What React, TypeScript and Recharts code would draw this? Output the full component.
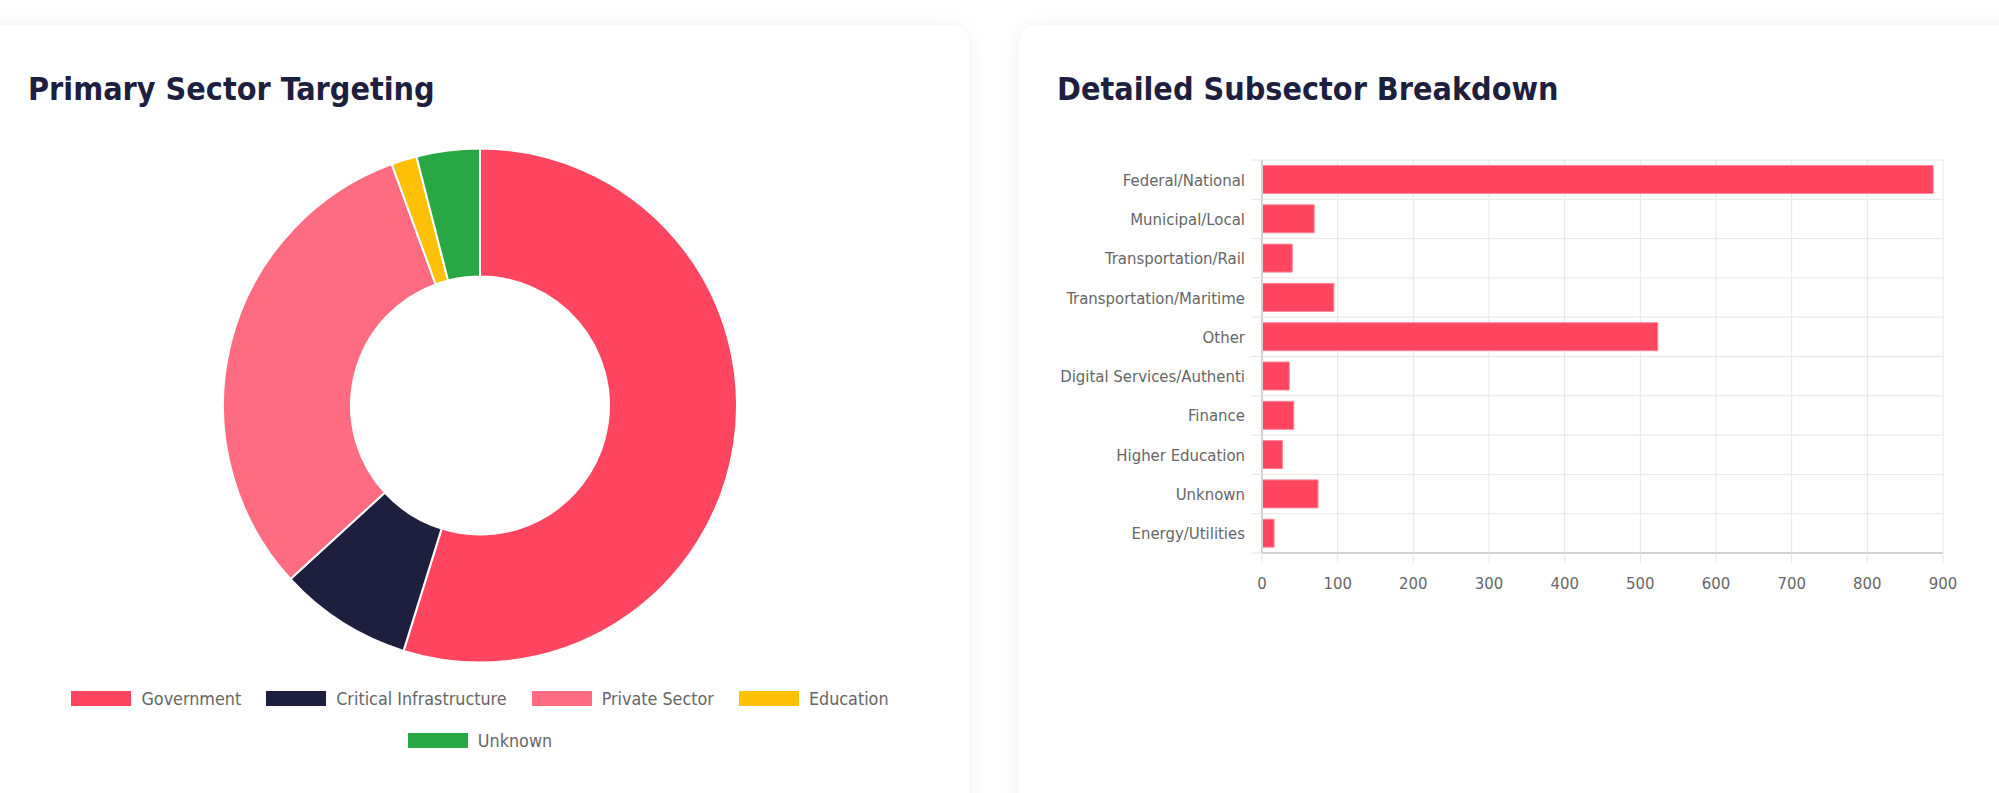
import { PieChart, Pie, Cell, Legend, BarChart, Bar, XAxis, YAxis, CartesianGrid } from 'recharts'

// Primary sector split (doughnut)
const sectorNames = ['Government', 'Critical Infrastructure', 'Private Sector', 'Education', 'Unknown']
const sectorValues = [992, 152, 565, 29, 72]
const sectorColors = ['#FF4560', '#1E1E3F', '#FF6B81', '#FFC107', '#28A745']

// Subsector breakdown (horizontal bars)
const subsectorNames = [
  'Federal/National',
  'Municipal/Local',
  'Transportation/Rail',
  'Transportation/Maritime',
  'Other',
  'Digital Services/Authenti',
  'Finance',
  'Higher Education',
  'Unknown',
  'Energy/Utilities',
]
const subsectorValues = [887, 69, 40, 95, 523, 36, 42, 27, 74, 16]
const countTicks = [0, 100, 200, 300, 400, 500, 600, 700, 800, 900]

const FONT = "'DejaVu Sans Condensed', 'DejaVu Sans', Verdana, sans-serif"
const TITLE_COLOR = '#1E1E3F'
const TEXT_COLOR = '#666666'
const GRID_COLOR = '#e6e6e6'
const AXIS_COLOR = '#d2d2d2'
const LABEL_SIZE = 16.6

const BAR_TOP = 20
const BAR_PLOT_H = 393
const BAND = BAR_PLOT_H / subsectorNames.length

const sectorData = sectorNames.map((name, i) => ({ name, value: sectorValues[i] }))
const subsectorData = subsectorNames.map((name, i) => ({ name, value: subsectorValues[i] }))

const cardStyle = {
  position: 'absolute' as const,
  top: 25,
  height: 820,
  background: '#fff',
  borderRadius: 18,
  boxShadow: '0 2px 22px rgba(0,0,0,0.07)',
}

const titleStyle = {
  position: 'absolute' as const,
  top: 72,
  fontFamily: FONT,
  fontStretch: 'condensed',
  fontWeight: 700,
  fontSize: 32,
  lineHeight: '34px',
  color: TITLE_COLOR,
  whiteSpace: 'nowrap' as const,
}

const renderSectorLegend = () => (
  <div
    style={{
      display: 'flex',
      flexWrap: 'wrap',
      justifyContent: 'center',
      columnGap: 25,
      rowGap: 18,
      fontFamily: FONT,
      fontStretch: 'condensed',
    }}
  >
    {sectorNames.map((name, i) => (
      <div key={name} style={{ display: 'flex', alignItems: 'center', height: 24 }}>
        <span style={{ display: 'inline-block', width: 60, height: 15, background: sectorColors[i], marginRight: 10 }} />
        <span style={{ fontSize: 17.8, color: TEXT_COLOR }}>{name}</span>
      </div>
    ))}
  </div>
)

const SubsectorTick = ({ x, y, payload, index }: any) => (
  <g>
    <line x1={x + 6} x2={x + 17} y1={y - BAND / 2} y2={y - BAND / 2} stroke={GRID_COLOR} />
    {index === subsectorNames.length - 1 && (
      <line x1={x + 6} x2={x + 17} y1={y + BAND / 2} y2={y + BAND / 2} stroke={GRID_COLOR} />
    )}
    <text x={x} y={y} dy="0.36em" textAnchor="end" fill={TEXT_COLOR} fontSize={LABEL_SIZE} fontFamily={FONT}>
      {payload.value}
    </text>
  </g>
)

const bandLines = ({ offset }: any) => {
  const top = offset?.top ?? BAR_TOP
  const h = offset?.height ?? BAR_PLOT_H
  return subsectorNames.map((_, i) => top + (i * h) / subsectorNames.length).concat(top + h)
}

export default function App() {
  return (
    <div
      style={{
        position: 'absolute',
        left: 0,
        top: 0,
        width: 1999,
        height: 793,
        overflow: 'hidden',
        background: '#fff',
        fontFamily: FONT,
      }}
    >
      <div style={{ ...cardStyle, left: -30, width: 999 }} />
      <div style={{ ...cardStyle, left: 1019, width: 1040 }} />

      <div style={{ ...titleStyle, left: 28 }}>Primary Sector Targeting</div>
      <div style={{ ...titleStyle, left: 1057 }}>Detailed Subsector Breakdown</div>

      <div style={{ position: 'absolute', left: 0, top: 0 }}>
        <PieChart width={960} height={793} margin={{ top: 0, right: 0, bottom: 0, left: 0 }}>
          <Pie
            data={sectorData}
            dataKey="value"
            nameKey="name"
            cx={480}
            cy={405.5}
            outerRadius={257}
            innerRadius={129}
            startAngle={90}
            endAngle={-270}
            stroke="#fff"
            strokeWidth={2}
            isAnimationActive={false}
          >
            {sectorData.map((d, i) => (
              <Cell key={d.name} fill={sectorColors[i]} />
            ))}
          </Pie>
          <Legend
            content={renderSectorLegend}
            wrapperStyle={{ left: 40, top: 686, bottom: 'auto', width: 880 }}
          />
        </PieChart>
      </div>

      <div style={{ position: 'absolute', left: 1000, top: 140 }}>
        <BarChart
          layout="vertical"
          width={999}
          height={473}
          data={subsectorData}
          margin={{ top: BAR_TOP, right: 56, bottom: 0, left: 0 }}
          barCategoryGap="14%"
        >
          <CartesianGrid stroke={GRID_COLOR} horizontalCoordinatesGenerator={bandLines} />
          <XAxis
            type="number"
            domain={[0, 900]}
            ticks={countTicks}
            interval={0}
            height={60}
            tickSize={10}
            tickMargin={14}
            tickLine={{ stroke: GRID_COLOR }}
            axisLine={{ stroke: AXIS_COLOR, strokeWidth: 2 }}
            tick={{ fill: TEXT_COLOR, fontSize: LABEL_SIZE, fontFamily: FONT }}
          />
          <YAxis
            type="category"
            dataKey="name"
            width={262}
            interval={0}
            tickSize={11}
            tickMargin={6}
            tickLine={false}
            axisLine={{ stroke: AXIS_COLOR, strokeWidth: 2 }}
            tick={<SubsectorTick />}
          />
          <Bar dataKey="value" fill="#FF4560" stroke="#ff8598" strokeWidth={1} isAnimationActive={false} />
        </BarChart>
      </div>
    </div>
  )
}
